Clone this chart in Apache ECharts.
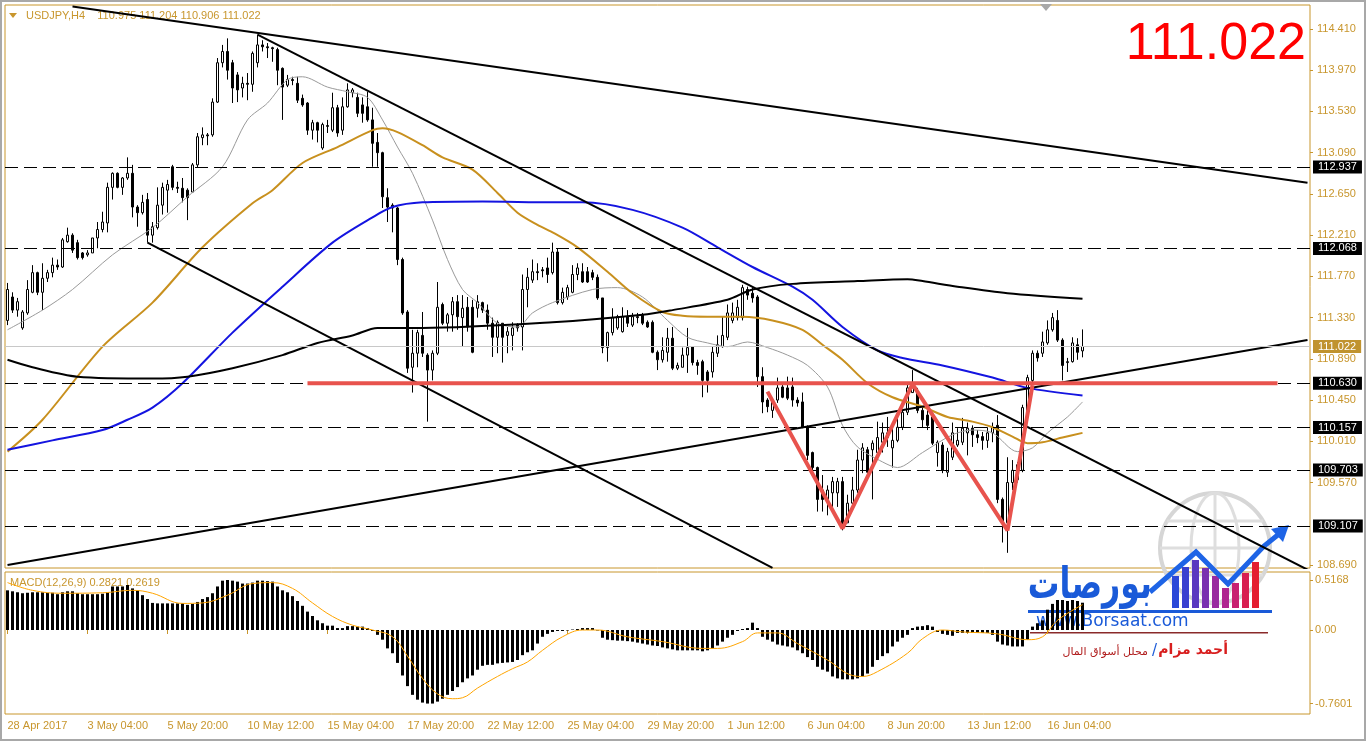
<!DOCTYPE html>
<html>
<head>
<meta charset="utf-8">
<title>USDJPY H4</title>
<script src="https://cdn.jsdelivr.net/npm/echarts@6/dist/echarts.min.js"></script>
<style>
  html, body { margin: 0; padding: 0; background: #fff; }
  #chart { width: 1366px; height: 741px; }
</style>
</head>
<body>
<div id="chart"></div>
<script>
var GOLD = '#c8962d'

// x axis labels, one every 16 bars
var tickLabels = ['28 Apr 2017', '3 May 04:00', '5 May 20:00', '10 May 12:00', '15 May 04:00', '17 May 20:00',
  '22 May 12:00', '25 May 04:00', '29 May 20:00', '1 Jun 12:00', '6 Jun 04:00', '8 Jun 20:00', '13 Jun 12:00', '16 Jun 04:00']

var priceTicks = [114.41, 113.97, 113.53, 113.09, 112.65, 112.21, 111.77, 111.33, 110.89, 110.45, 110.01, 109.57, 108.69]
var macdTicks = [0.5168, 0, -0.7601]

// H4 candles: [open, high, low, close]
var candles = [
  [111.30, 111.70, 111.25, 111.63], [111.55, 111.60, 111.38, 111.41], [111.41, 111.54, 111.34, 111.50], [111.22, 111.41, 111.20, 111.39],
  [111.38, 111.73, 111.36, 111.63], [111.60, 111.89, 111.59, 111.81], [111.81, 111.82, 111.57, 111.60], [111.60, 111.91, 111.41, 111.75],
  [111.75, 111.84, 111.71, 111.81], [111.81, 111.97, 111.76, 111.89], [111.89, 111.95, 111.84, 111.87], [111.87, 112.18, 111.86, 112.16],
  [112.14, 112.29, 112.13, 112.21], [112.21, 112.23, 112.02, 112.05], [112.13, 112.16, 111.95, 111.97], [112.02, 112.03, 111.95, 111.97],
  [112.00, 112.05, 111.98, 112.02], [112.02, 112.18, 112.02, 112.18], [112.18, 112.35, 112.07, 112.27], [112.27, 112.46, 112.24, 112.35],
  [112.34, 112.77, 112.24, 112.72], [112.72, 112.88, 112.59, 112.87], [112.87, 112.88, 112.71, 112.72], [112.72, 112.83, 112.64, 112.82],
  [112.82, 113.04, 112.80, 112.87], [112.87, 112.96, 112.40, 112.51], [112.51, 112.53, 112.30, 112.45], [112.45, 112.64, 112.43, 112.56],
  [112.59, 112.66, 112.13, 112.21], [112.21, 112.35, 112.13, 112.30], [112.29, 112.72, 112.27, 112.53], [112.53, 112.77, 112.43, 112.72],
  [112.69, 112.80, 112.45, 112.75], [112.94, 112.96, 112.69, 112.72], [112.72, 112.78, 112.66, 112.71], [112.71, 112.82, 112.56, 112.61],
  [112.69, 112.71, 112.37, 112.61], [112.67, 112.98, 112.66, 112.96], [112.96, 113.30, 112.93, 113.26], [113.25, 113.36, 113.17, 113.28],
  [113.28, 113.30, 113.17, 113.27], [113.28, 113.67, 113.26, 113.63], [113.63, 114.10, 113.62, 114.05], [114.05, 114.24, 114.00, 114.17],
  [114.17, 114.31, 113.87, 113.97], [114.05, 114.08, 113.62, 113.78], [113.92, 113.95, 113.63, 113.76], [113.78, 113.90, 113.68, 113.83],
  [113.83, 113.94, 113.65, 113.82], [113.82, 114.17, 113.74, 114.15], [114.05, 114.35, 114.00, 114.24], [114.24, 114.29, 114.17, 114.22],
  [114.22, 114.26, 114.10, 114.21], [114.21, 114.22, 114.06, 114.20], [114.19, 114.21, 113.81, 113.97], [113.99, 114.00, 113.44, 113.79],
  [113.81, 113.92, 113.79, 113.87], [113.87, 113.90, 113.81, 113.86], [113.83, 113.90, 113.62, 113.65], [113.67, 113.71, 113.58, 113.60],
  [113.62, 113.63, 113.28, 113.33], [113.33, 113.44, 113.23, 113.41], [113.41, 113.42, 113.20, 113.33], [113.14, 113.41, 113.12, 113.39],
  [113.37, 113.44, 113.30, 113.38], [113.33, 113.73, 113.31, 113.57], [113.57, 113.60, 113.26, 113.30], [113.33, 113.68, 113.28, 113.58],
  [113.58, 113.83, 113.57, 113.76], [113.73, 113.78, 113.68, 113.76], [113.68, 113.73, 113.47, 113.51], [113.60, 113.68, 113.41, 113.51],
  [113.58, 113.74, 113.42, 113.44], [113.44, 113.57, 112.94, 113.19], [113.20, 113.30, 112.94, 113.09], [113.09, 113.10, 112.50, 112.62],
  [112.61, 112.71, 112.35, 112.51], [112.53, 112.55, 112.24, 112.50], [112.50, 112.51, 111.89, 111.95], [111.95, 111.97, 111.36, 111.38],
  [111.39, 111.41, 110.74, 110.79], [110.80, 111.20, 110.53, 110.95], [110.95, 111.20, 110.80, 111.17], [111.14, 111.39, 110.91, 110.95],
  [110.93, 110.95, 110.22, 110.77], [110.77, 110.98, 110.66, 110.95], [110.95, 111.71, 110.93, 111.44], [111.47, 111.49, 111.25, 111.27],
  [111.27, 111.38, 111.18, 111.36], [111.36, 111.55, 111.18, 111.50], [111.50, 111.57, 111.20, 111.34], [111.33, 111.57, 111.02, 111.43],
  [111.44, 111.55, 111.18, 111.23], [111.44, 111.52, 110.95, 110.96], [111.43, 111.57, 111.33, 111.50], [111.49, 111.50, 111.38, 111.41],
  [111.41, 111.47, 111.20, 111.27], [111.27, 111.33, 110.91, 111.12], [111.12, 111.30, 110.95, 111.28], [111.27, 111.27, 110.85, 111.12],
  [111.14, 111.23, 110.95, 111.18], [111.14, 111.28, 110.98, 111.22], [111.25, 111.27, 111.18, 111.22], [111.23, 111.79, 110.98, 111.63],
  [111.63, 111.86, 111.44, 111.76], [111.73, 111.95, 111.70, 111.82], [111.82, 111.91, 111.73, 111.81], [111.84, 111.87, 111.76, 111.83],
  [111.86, 111.97, 111.70, 111.79], [111.81, 112.13, 111.79, 112.03], [112.03, 112.07, 111.47, 111.49], [111.49, 111.65, 111.47, 111.60],
  [111.55, 111.68, 111.52, 111.65], [111.60, 111.89, 111.59, 111.79], [111.79, 111.91, 111.73, 111.86], [111.82, 111.91, 111.70, 111.71],
  [111.82, 111.87, 111.70, 111.71], [111.81, 111.84, 111.73, 111.76], [111.76, 111.79, 111.52, 111.54], [111.54, 111.54, 110.95, 111.01],
  [111.01, 111.18, 110.86, 111.17], [111.17, 111.43, 111.14, 111.33], [111.22, 111.36, 111.20, 111.34], [111.18, 111.44, 111.17, 111.34],
  [111.34, 111.41, 111.23, 111.27], [111.25, 111.38, 111.23, 111.34], [111.34, 111.38, 111.27, 111.33], [111.36, 111.38, 111.25, 111.27],
  [111.28, 111.30, 111.22, 111.23], [111.28, 111.30, 110.95, 110.96], [110.96, 110.98, 110.77, 110.88], [110.88, 111.12, 110.85, 110.98],
  [110.96, 111.22, 110.86, 111.11], [111.11, 111.23, 110.77, 110.79], [110.79, 110.85, 110.77, 110.82], [110.80, 111.01, 110.80, 110.93],
  [110.93, 111.22, 110.74, 111.01], [111.02, 111.02, 110.82, 110.85], [110.85, 110.88, 110.72, 110.82], [110.86, 110.88, 110.48, 110.66],
  [110.75, 110.77, 110.53, 110.66], [110.75, 111.02, 110.69, 110.96], [110.95, 111.14, 110.91, 111.04], [111.02, 111.34, 111.01, 111.14],
  [111.12, 111.47, 111.09, 111.38], [111.30, 111.49, 111.27, 111.38], [111.33, 111.52, 111.30, 111.44], [111.33, 111.68, 111.30, 111.65],
  [111.63, 111.66, 111.52, 111.57], [111.59, 111.65, 111.49, 111.54], [111.55, 111.57, 110.59, 110.70], [110.70, 110.80, 110.31, 110.43],
  [110.45, 110.47, 110.32, 110.38], [110.34, 110.47, 110.26, 110.43], [110.45, 110.69, 110.42, 110.58], [110.59, 110.63, 110.47, 110.48],
  [110.58, 110.70, 110.45, 110.47], [110.59, 110.69, 110.38, 110.45], [110.45, 110.48, 110.38, 110.42], [110.43, 110.53, 110.15, 110.16],
  [110.16, 110.18, 109.81, 109.86], [109.89, 109.90, 109.67, 109.73], [109.73, 109.74, 109.26, 109.39], [109.49, 109.65, 109.26, 109.39],
  [109.39, 109.54, 109.22, 109.49], [109.46, 109.63, 109.25, 109.58], [109.46, 109.62, 109.31, 109.58], [109.58, 109.63, 109.06, 109.10],
  [109.14, 109.44, 109.14, 109.35], [109.35, 109.63, 109.31, 109.49], [109.49, 109.92, 109.46, 109.81], [109.81, 109.99, 109.67, 109.94],
  [109.92, 109.95, 109.67, 109.68], [109.92, 110.02, 109.39, 109.99], [109.89, 110.22, 109.81, 110.05], [110.00, 110.21, 109.89, 110.10],
  [110.05, 110.27, 109.95, 110.10], [109.94, 110.15, 109.73, 110.02], [110.02, 110.31, 110.00, 110.16], [110.16, 110.34, 110.13, 110.32],
  [110.32, 110.64, 110.29, 110.58], [110.53, 110.77, 110.53, 110.58], [110.53, 110.58, 110.31, 110.34], [110.34, 110.37, 110.16, 110.24],
  [110.29, 110.34, 110.13, 110.18], [110.27, 110.32, 109.97, 109.99], [109.89, 110.02, 109.74, 110.00], [109.97, 110.00, 109.67, 109.70],
  [109.68, 109.94, 109.63, 109.90], [109.84, 110.21, 109.81, 110.10], [109.97, 110.15, 109.95, 110.02], [110.00, 110.26, 109.97, 110.15],
  [110.10, 110.21, 109.86, 110.15], [110.15, 110.18, 109.95, 110.08], [110.08, 110.13, 109.99, 110.05], [110.06, 110.11, 109.92, 110.02],
  [110.02, 110.16, 109.94, 110.10], [110.10, 110.21, 110.00, 110.16], [110.18, 110.29, 109.35, 109.39], [109.39, 109.41, 108.93, 109.14],
  [109.14, 109.84, 108.82, 109.57], [109.57, 109.81, 109.49, 109.70], [109.60, 109.79, 109.57, 109.76], [109.70, 110.40, 109.68, 110.37],
  [110.34, 110.72, 110.30, 110.69], [110.66, 110.98, 110.64, 110.95], [110.95, 110.98, 110.86, 110.90], [110.95, 111.18, 110.91, 111.07],
  [111.06, 111.30, 111.04, 111.20], [111.20, 111.38, 111.18, 111.33], [111.30, 111.41, 111.07, 111.09], [111.09, 111.11, 110.66, 110.82],
  [110.85, 110.90, 110.75, 110.86], [110.86, 111.12, 110.85, 111.06], [111.04, 111.11, 110.88, 110.96], [110.975, 111.204, 110.906, 111.022]
]

// moving averages as [bar, price]
var maThinPts = [[0, 111.20], [7, 111.41], [13, 111.63], [21, 112.00], [29, 112.29], [36, 112.62], [43, 112.94], [48, 113.44],
  [52, 113.62], [56, 113.87], [59, 113.90], [64, 113.79], [68, 113.74], [72, 113.68], [75, 113.44], [78, 113.15], [81, 112.87],
  [85, 112.37], [88, 111.95], [91, 111.63], [94, 111.49], [98, 111.27], [102, 111.23], [105, 111.38], [109, 111.49], [117, 111.63],
  [122, 111.65], [127, 111.55], [132, 111.30], [136, 111.12], [140, 111.06], [144, 111.02], [148, 111.07], [152, 111.01],
  [156, 110.93], [160, 110.82], [164, 110.59], [167, 110.18], [170, 109.95], [175, 109.79], [178, 109.73], [183, 109.89],
  [189, 110.08], [193, 110.13], [197, 110.10], [202, 109.90], [205, 109.94], [208, 110.10], [212, 110.27], [215, 110.43]]
var maGoldPts = [[0, 109.90], [7, 110.24], [19, 111.02], [29, 111.49], [39, 112.08], [49, 112.55], [53, 112.69], [59, 112.98],
  [66, 113.15], [73, 113.33], [75, 113.35], [78, 113.31], [83, 113.17], [87, 113.04], [93, 112.91], [98, 112.66], [102, 112.45],
  [106, 112.32], [109, 112.24], [114, 112.08], [120, 111.82], [125, 111.59], [131, 111.39], [135, 111.35], [140, 111.34],
  [147, 111.34], [153, 111.30], [159, 111.20], [163, 111.04], [167, 110.88], [172, 110.63], [177, 110.48], [183, 110.38],
  [188, 110.27], [193, 110.22], [197, 110.16], [201, 110.06], [204, 109.99], [207, 110.00], [211, 110.05], [215, 110.10]]
var maBluePts = [[0, 109.92], [9, 110.02], [19, 110.13], [24, 110.24], [29, 110.37], [35, 110.63], [45, 111.17], [55, 111.66],
  [65, 112.13], [73, 112.40], [77, 112.51], [83, 112.56], [95, 112.57], [109, 112.56], [115, 112.56], [125, 112.48], [135, 112.29],
  [142, 112.08], [149, 111.87], [157, 111.66], [161, 111.52], [167, 111.23], [174, 110.98], [179, 110.90], [187, 110.82],
  [197, 110.69], [204, 110.58], [215, 110.50]]
var maBlackPts = [[0, 110.88], [5, 110.80], [14, 110.70], [29, 110.68], [36, 110.70], [45, 110.79], [55, 110.93], [62, 111.06],
  [69, 111.14], [74, 111.22], [83, 111.22], [109, 111.28], [127, 111.36], [133, 111.41], [144, 111.52], [149, 111.63],
  [157, 111.69], [170, 111.72], [180, 111.74], [183, 111.72], [190, 111.66], [200, 111.59], [215, 111.53]]

// MACD(12,26,9) main values per bar and the signal line
var macd = [
  0.41, 0.40, 0.39, 0.38, 0.385, 0.39, 0.39, 0.39, 0.385, 0.385,
  0.37, 0.39, 0.40, 0.40, 0.38, 0.37, 0.37, 0.37, 0.37, 0.375,
  0.39, 0.45, 0.45, 0.45, 0.465, 0.43, 0.41, 0.36, 0.32, 0.28,
  0.275, 0.275, 0.275, 0.275, 0.275, 0.275, 0.26, 0.27, 0.29, 0.32,
  0.34, 0.38, 0.45, 0.51, 0.5168, 0.51, 0.50, 0.48, 0.48, 0.49,
  0.51, 0.51, 0.505, 0.50, 0.45, 0.41, 0.39, 0.35, 0.30, 0.25,
  0.19, 0.145, 0.10, 0.07, 0.045, 0.045, 0.02, 0.02, 0.04, 0.04,
  0.035, 0.035, 0.02, -0.01, -0.05, -0.10, -0.19, -0.24, -0.34, -0.47,
  -0.58, -0.67, -0.72, -0.75, -0.7601, -0.76, -0.74, -0.71, -0.67, -0.63,
  -0.59, -0.54, -0.50, -0.47, -0.41, -0.37, -0.36, -0.36, -0.345, -0.34,
  -0.335, -0.33, -0.31, -0.26, -0.23, -0.21, -0.14, -0.07, -0.04, -0.02,
  -0.01, -0.01, -0.005, 0.005, 0.01, 0.02, 0.02, 0.02, -0.005, -0.08,
  -0.10, -0.105, -0.11, -0.11, -0.115, -0.12, -0.13, -0.14, -0.15, -0.16,
  -0.165, -0.18, -0.19, -0.20, -0.21, -0.21, -0.21, -0.21, -0.21, -0.22,
  -0.21, -0.19, -0.16, -0.12, -0.08, -0.05, -0.01, 0.01, 0.02, 0.076,
  0.02, -0.07, -0.10, -0.12, -0.15, -0.16, -0.17, -0.18, -0.21, -0.24,
  -0.28, -0.31, -0.38, -0.41, -0.43, -0.48, -0.50, -0.51, -0.51, -0.51,
  -0.50, -0.48, -0.45, -0.38, -0.31, -0.27, -0.24, -0.17, -0.12, -0.08,
  -0.05, 0.02, 0.035, 0.04, 0.05, 0.035, -0.02, -0.04, -0.05, -0.06,
  -0.03, -0.03, -0.03, -0.03, -0.03, -0.03, -0.03, -0.05, -0.12, -0.15,
  -0.16, -0.17, -0.17, -0.17, -0.10, 0.035, 0.07, 0.10, 0.21, 0.27,
  0.31, 0.31, 0.30, 0.31, 0.30, 0.2821
]
var signalPts = [[0, 0.49], [5, 0.41], [11, 0.38], [19, 0.385], [25, 0.41], [29, 0.38], [35, 0.275], [39, 0.28], [44, 0.36],
  [49, 0.48], [53, 0.49], [57, 0.43], [61, 0.28], [65, 0.14], [69, 0.05], [73, 0.0], [77, -0.07], [80, -0.27], [83, -0.50],
  [86, -0.66], [89, -0.71], [91, -0.70], [94, -0.60], [98, -0.48], [101, -0.40], [104, -0.33], [107, -0.21], [111, -0.07],
  [115, 0.0], [118, 0.0], [124, -0.07], [131, -0.12], [139, -0.19], [142, -0.19], [147, -0.12], [150, -0.03], [154, -0.03],
  [158, -0.14], [164, -0.31], [169, -0.47], [171, -0.48], [174, -0.43], [180, -0.24], [183, -0.09], [187, 0.0], [191, -0.02],
  [198, -0.04], [204, -0.10], [207, -0.07], [210, 0.10], [215, 0.2619]]

// drawn objects
var levels = [112.937, 112.068, 110.630, 110.157, 109.703, 109.107]
var lastPrice = 111.022
var trendLines = [
  [[13, 114.65], [260, 112.77]],
  [[50, 114.35], [260, 108.64]],
  [[28, 112.13], [153, 108.66]],
  [[0, 108.69], [260, 111.09]]
]
var redLevel = [[60, 110.63], [254, 110.63]]
var doubleBottom = [[152, 110.54], [167, 109.08], [181, 110.62], [200, 109.06], [205, 110.61]]

var slots = 261
var cats = []
for (var i = 0; i < slots; i++) cats.push(String(i))

function showTick(index) {
  return index % 16 === 0 && index / 16 < tickLabels.length
}

function maSeries(name, pts, color, width) {
  return {
    name: name, type: 'line', xAxisIndex: 0, yAxisIndex: 0, data: pts,
    showSymbol: false, smooth: 0.3, silent: true, z: 3,
    lineStyle: { color: color, width: width }
  }
}

function lineObj(pts, color, width, z) {
  return {
    type: 'line', xAxisIndex: 0, yAxisIndex: 0, data: pts, showSymbol: false, silent: true, z: z,
    lineStyle: { color: color, width: width }
  }
}

var levelMarks = levels.map(function (v) {
  return { yAxis: v }
})
levelMarks.push({
  yAxis: lastPrice,
  lineStyle: { color: '#c8c8c8', type: 'solid', width: 1 },
  label: { backgroundColor: '#c0932f' }
})

var series = [
  {
    name: 'USDJPY', type: 'candlestick', xAxisIndex: 0, yAxisIndex: 0, barWidth: 3, z: 2,
    data: candles.map(function (c) { return [c[0], c[3], c[2], c[1]] }),
    itemStyle: { color: '#fff', color0: '#000', borderColor: '#000', borderColor0: '#000', borderWidth: 1 },
    markLine: {
      silent: true, symbol: ['none', 'none'], animation: false, precision: 3,
      lineStyle: { color: '#000', type: [13, 6], width: 1 },
      label: {
        position: 'end', distance: 3, color: '#fff', backgroundColor: '#000',
        fontFamily: 'Liberation Sans', fontSize: 11, padding: [1, 5, 0, 5], lineHeight: 12,
        formatter: function (p) { return Number(p.data.yAxis).toFixed(3) }
      },
      data: levelMarks
    }
  },
  maSeries('ma thin', maThinPts, '#9a9a9a', 1),
  maSeries('ma gold', maGoldPts, '#c8901e', 2),
  maSeries('ma blue', maBluePts, '#1414e0', 2),
  maSeries('ma black', maBlackPts, '#000', 2)
]
trendLines.forEach(function (t) { series.push(lineObj(t, '#000', 2, 4)) })
series.push(lineObj(redLevel, '#e8534d', 4, 5))
series.push(lineObj(doubleBottom, '#e8534d', 4, 5))
series.push({
  name: 'MACD', type: 'bar', xAxisIndex: 1, yAxisIndex: 1, data: macd, barWidth: 3,
  itemStyle: { color: '#000' }, silent: true
})
series.push({
  name: 'Signal', type: 'line', xAxisIndex: 1, yAxisIndex: 1, data: signalPts, showSymbol: false,
  smooth: 0.4, silent: true, z: 3, lineStyle: { color: '#ffa500', width: 1 }
})

var labelFont = { color: GOLD, fontFamily: 'Liberation Sans', fontSize: 11 }

// Borsaat logo, drawn over the corner
var logo = [
  { type: 'circle', shape: { cx: 1215, cy: 548, r: 55 }, style: { fill: 'none', stroke: '#d6d6d6', lineWidth: 4 } },
  { type: 'ellipse', shape: { cx: 1215, cy: 548, rx: 24, ry: 55 }, style: { fill: 'none', stroke: '#dedede', lineWidth: 3 } },
  { type: 'line', shape: { x1: 1215, y1: 493, x2: 1215, y2: 603 }, style: { stroke: '#dedede', lineWidth: 3 } },
  { type: 'line', shape: { x1: 1160, y1: 548, x2: 1270, y2: 548 }, style: { stroke: '#dedede', lineWidth: 3 } },
  { type: 'line', shape: { x1: 1167, y1: 521, x2: 1263, y2: 521 }, style: { stroke: '#dedede', lineWidth: 3 } },
  { type: 'line', shape: { x1: 1167, y1: 575, x2: 1263, y2: 575 }, style: { stroke: '#dedede', lineWidth: 3 } }
]
var colTops = [576, 567, 560, 568, 576, 588, 583, 573, 562]
var colColors = ['#2b48d8', '#3a40d0', '#5a38c0', '#7a30b0', '#9a2aa0', '#b02590', '#c82070', '#d81f50', '#e41e30']
colTops.forEach(function (top, k) {
  logo.push({ type: 'rect', shape: { x: 1172 + 10 * k, y: top, width: 7, height: 608 - top }, style: { fill: colColors[k] } })
})
logo.push(
  { type: 'polyline', shape: { points: [[1150, 592], [1196, 552], [1228, 584], [1264, 546], [1279, 534]] },
    style: { fill: 'none', stroke: '#1e64e6', lineWidth: 5, lineJoin: 'miter' } },
  { type: 'polygon', shape: { points: [[1289, 525], [1283, 542], [1271, 529]] }, style: { fill: '#1e64e6' } },
  { type: 'text', x: 1152, y: 609, scaleX: 0.72,
    style: { text: 'بورصات', x: 0, y: 0, align: 'right', verticalAlign: 'bottom', textAlign: 'right',
      textVerticalAlign: 'bottom', fontSize: 44, fontWeight: 'bold', fontFamily: 'DejaVu Sans', fill: '#1a5ad8' } },
  { type: 'rect', shape: { x: 1028, y: 610, width: 244, height: 3 }, style: { fill: '#1a5ad8' } },
  { type: 'text', style: { text: 'www.Borsaat.com', x: 1036, y: 622, verticalAlign: 'middle', textVerticalAlign: 'middle',
    fontSize: 17, fontFamily: 'DejaVu Sans', fill: '#1a5ad8' } },
  { type: 'rect', shape: { x: 1030, y: 632, width: 238, height: 1.5 }, style: { fill: '#8a2a2a' } },
  { type: 'text', style: { text: 'أحمد مزام', x: 1228, y: 650, align: 'right', textAlign: 'right', verticalAlign: 'middle',
    textVerticalAlign: 'middle', fontSize: 14, fontWeight: 'bold', fontFamily: 'DejaVu Sans', fill: '#d81e1e' } },
  { type: 'text', style: { text: '/', x: 1152, y: 651, verticalAlign: 'middle', textVerticalAlign: 'middle',
    fontSize: 15, fontFamily: 'DejaVu Sans', fill: '#1a5ad8' } },
  { type: 'text', style: { text: 'محلل أسواق المال', x: 1148, y: 652, align: 'right', textAlign: 'right', verticalAlign: 'middle',
    textVerticalAlign: 'middle', fontSize: 11, fontFamily: 'DejaVu Sans', fill: '#b01c1c' } }
)

var chart = echarts.init(document.getElementById('chart'), null, { renderer: 'canvas' })
chart.setOption({
  animation: false,
  backgroundColor: '#fff',
  textStyle: { fontFamily: 'Liberation Sans' },
  grid: [
    { left: 5, top: 5, width: 1305, height: 563, show: true, borderColor: GOLD, borderWidth: 1 },
    { left: 5, top: 572, width: 1305, height: 142, show: true, borderColor: GOLD, borderWidth: 1 }
  ],
  xAxis: [
    { type: 'category', gridIndex: 0, data: cats, boundaryGap: true,
      axisLine: { show: false }, axisTick: { show: false }, axisLabel: { show: false }, splitLine: { show: false } },
    { type: 'category', gridIndex: 1, data: cats, boundaryGap: true,
      axisLine: { show: false },
      axisTick: { show: true, interval: showTick, alignWithLabel: true, length: 4, lineStyle: { color: GOLD } },
      axisLabel: Object.assign({
        interval: showTick, align: 'left', margin: 6,
        formatter: function (v, idx) { return tickLabels[idx / 16] }
      }, labelFont),
      splitLine: { show: false } }
  ],
  yAxis: [
    { type: 'value', gridIndex: 0, position: 'right', min: 108.658, max: 114.666, scale: true,
      axisLine: { show: false }, splitLine: { show: false },
      axisTick: { show: true, customValues: priceTicks, length: 3, lineStyle: { color: GOLD } },
      axisLabel: Object.assign({
        customValues: priceTicks, margin: 7,
        formatter: function (v) { return v.toFixed(3) }
      }, labelFont) },
    { type: 'value', gridIndex: 1, position: 'right', min: -0.868, max: 0.5995,
      axisLine: { show: false }, splitLine: { show: false },
      axisTick: { show: true, customValues: macdTicks, length: 3, lineStyle: { color: GOLD } },
      axisLabel: Object.assign({
        customValues: macdTicks, margin: 5,
        formatter: function (v) { return v === 0 ? '0.00' : v.toFixed(4) }
      }, labelFont) }
  ],
  series: series,
  graphic: [
    { type: 'rect', silent: true, shape: { x: 1, y: 1, width: 1364, height: 739 }, style: { fill: 'none', stroke: '#a8a8a8', lineWidth: 2 } },
    { type: 'polygon', silent: true, shape: { points: [[1040, 4], [1052, 4], [1046, 11]] }, style: { fill: '#a8a8a8' } },
    { type: 'polygon', silent: true, shape: { points: [[9, 13], [17, 13], [13, 18]] }, style: { fill: GOLD } },
    { type: 'text', silent: true, style: { text: 'USDJPY,H4    110.975 111.204 110.906 111.022', x: 26, y: 16,
      verticalAlign: 'middle', textVerticalAlign: 'middle', fontSize: 11, fontFamily: 'Liberation Sans', fill: GOLD } },
    { type: 'text', silent: true, style: { text: '111.022', x: 1306, y: 45, align: 'right', textAlign: 'right',
      verticalAlign: 'middle', textVerticalAlign: 'middle', fontSize: 52, fontFamily: 'Liberation Sans', fill: '#ff0000' } },
    { type: 'text', silent: true, style: { text: 'MACD(12,26,9) 0.2821 0.2619', x: 10, y: 583,
      verticalAlign: 'middle', textVerticalAlign: 'middle', fontSize: 11, fontFamily: 'Liberation Sans', fill: GOLD } },
    { type: 'group', silent: true, z: 100, children: logo }
  ]
})
</script>
</body>
</html>
